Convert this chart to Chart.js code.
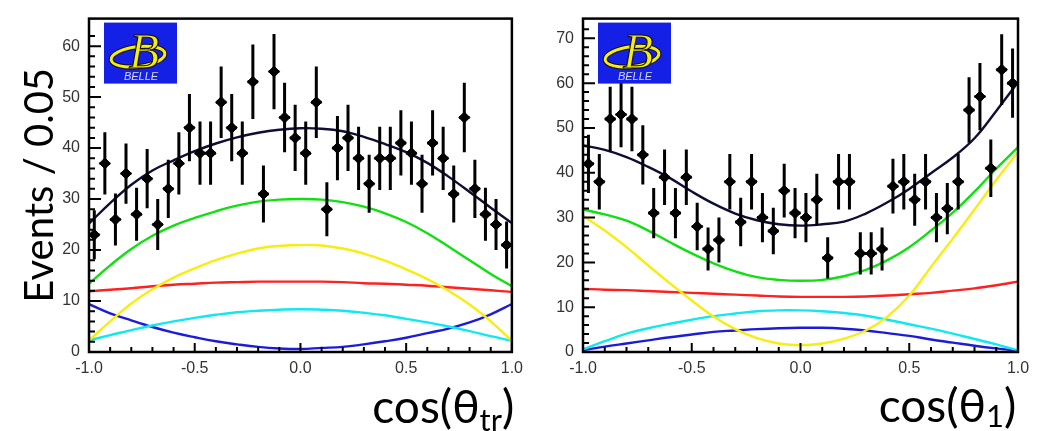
<!DOCTYPE html>
<html>
<head>
<meta charset="utf-8">
<script src="https://cdn.jsdelivr.net/npm/chart.js@4.4.1/dist/chart.umd.min.js"></script>
<style>
  html, body { margin: 0; padding: 0; background: #fff; }
  #wrap { position: relative; width: 1040px; height: 431px; overflow: hidden; }
  canvas { position: absolute; top: 0; }
  #cTr { left: 0; }
  #cT1 { left: 530px; }
</style>
</head>
<body>
<div id="wrap">
  <canvas id="cTr" width="530" height="431"></canvas>
  <canvas id="cT1" width="510" height="431"></canvas>
</div>
<script>
// bin centres, bin width 0.05
const binCenters = [-0.975, -0.925, -0.875, -0.825, -0.775, -0.725, -0.675, -0.625, -0.575, -0.525,
  -0.475, -0.425, -0.375, -0.325, -0.275, -0.225, -0.175, -0.125, -0.075, -0.025,
  0.025, 0.075, 0.125, 0.175, 0.225, 0.275, 0.325, 0.375, 0.425, 0.475,
  0.525, 0.575, 0.625, 0.675, 0.725, 0.775, 0.825, 0.875, 0.925, 0.975];

// cos(theta_tr) panel
const countsTr = [23, 37, 26, 35, 27, 34, 25, 32, 37, 44, 39, 39, 49, 44, 39, 53, 31, 55, 46, 42,
  39, 49, 28, 40, 42, 38, 33, 38, 38, 41, 39, 33, 41, 38, 31, 46, 32, 27, 25, 21];
const errTr = [4.8, 6.1, 5.1, 5.9, 5.2, 5.8, 5.0, 5.7, 6.1, 6.6, 6.2, 6.2, 7.0, 6.6, 6.2, 7.3, 5.6, 7.4, 6.8, 6.5,
  6.2, 7.0, 5.3, 6.3, 6.5, 6.2, 5.7, 6.2, 6.2, 6.4, 6.2, 5.7, 6.4, 6.2, 5.6, 6.8, 5.7, 5.2, 5.0, 4.6];

// cos(theta_1) panel
const countsT1 = [42, 38, 52, 53, 52, 44, 31, 39, 31, 39, 28, 23, 25, 38, 29, 38, 30, 27, 36, 31,
  30, 34, 21, 38, 38, 22, 22, 23, 37, 38, 34, 38, 30, 32, 38, 54, 57, 41, 63, 60];
const errT1 = [6.5, 6.2, 7.2, 7.3, 7.2, 6.6, 5.6, 6.2, 5.6, 6.2, 5.3, 4.8, 5.0, 6.2, 5.4, 6.2, 5.5, 5.2, 6.0, 5.6,
  5.5, 5.8, 4.6, 6.2, 6.2, 4.7, 4.7, 4.8, 6.1, 6.2, 5.8, 6.2, 5.5, 5.7, 6.2, 7.3, 7.5, 6.4, 7.9, 7.7];

// fit curves, sampled every 0.1
const curveX = [-1.0, -0.9, -0.8, -0.7, -0.6, -0.5, -0.4, -0.3, -0.2, -0.1, 0.0,
  0.1, 0.2, 0.3, 0.4, 0.5, 0.6, 0.7, 0.8, 0.9, 1.0];

const trTotal  = [25.2, 29.2, 32.8, 35.6, 37.6, 39.4, 40.9, 42.1, 43.0, 43.6, 43.9, 43.8, 43.3, 42.2, 40.8, 39.2, 37.1, 34.4, 31.4, 28.3, 25.3];
const trGreen  = [13.4, 17.0, 20.2, 22.8, 24.8, 26.3, 27.6, 28.7, 29.5, 29.9, 30.0, 29.9, 29.4, 28.5, 27.2, 25.5, 23.3, 20.7, 18.0, 15.3, 12.9];
const trYellow = [2.3, 6.0, 9.5, 12.3, 14.6, 16.4, 18.0, 19.3, 20.3, 20.8, 21.0, 20.9, 20.3, 19.3, 17.9, 16.2, 14.3, 12.0, 9.3, 6.0, 2.2];
const trRed    = [11.9, 12.2, 12.5, 12.9, 13.2, 13.4, 13.6, 13.7, 13.8, 13.8, 13.8, 13.8, 13.7, 13.5, 13.4, 13.2, 13.0, 12.7, 12.4, 12.1, 11.8];
const trCyan   = [2.3, 3.3, 4.3, 5.2, 6.0, 6.7, 7.3, 7.8, 8.1, 8.3, 8.4, 8.3, 8.1, 7.7, 7.2, 6.5, 5.8, 5.0, 4.1, 3.1, 2.2];
const trBlue   = [9.4, 7.6, 6.2, 4.9, 3.8, 2.9, 2.1, 1.5, 1.0, 0.7, 0.6, 0.8, 1.0, 1.5, 2.1, 2.8, 3.7, 4.6, 5.8, 7.4, 9.4];

const t1Total  = [46.1, 45.1, 43.5, 41.3, 38.8, 35.8, 33.1, 30.9, 29.4, 28.5, 28.2, 28.5, 29.1, 30.9, 33.4, 36.4, 39.9, 43.4, 47.7, 53.8, 60.2];
const t1Green  = [31.8, 30.7, 29.3, 27.1, 24.5, 22.0, 19.8, 18.0, 16.7, 16.1, 15.9, 16.1, 16.9, 18.3, 20.5, 23.4, 27.1, 31.1, 35.8, 40.9, 45.7];
const t1Yellow = [30.4, 27.1, 23.4, 19.3, 15.3, 11.5, 7.9, 5.1, 3.1, 1.9, 1.5, 1.9, 3.0, 4.8, 7.9, 12.6, 19.0, 25.3, 31.8, 38.4, 44.6];
const t1Red    = [14.1, 13.9, 13.8, 13.6, 13.4, 13.2, 13.0, 12.8, 12.6, 12.4, 12.3, 12.3, 12.3, 12.4, 12.6, 12.9, 13.2, 13.7, 14.2, 14.9, 15.7];
const t1Cyan   = [0.6, 2.4, 4.1, 5.3, 6.3, 7.2, 8.0, 8.6, 9.1, 9.3, 9.3, 9.1, 8.7, 8.1, 7.2, 6.2, 5.2, 4.1, 2.9, 1.7, 0.4];
const t1Blue   = [0.4, 1.2, 1.9, 2.6, 3.3, 3.9, 4.5, 4.8, 5.1, 5.3, 5.4, 5.4, 5.2, 4.8, 4.2, 3.6, 2.8, 2.1, 1.4, 0.8, 0.3];

const xMajorTicks = [-1.0, -0.5, 0.0, 0.5, 1.0];
const binHalfWidth = 0.025;

const COLORS = {
  total: '#0e0e36', green: '#10e010', yellow: '#f8ec10', red: '#ff2020', cyan: '#10e8f0', blue: '#1c1cd8'
};

Chart.defaults.font.family = "'Liberation Sans', Arial, sans-serif";
Chart.defaults.font.size = 16;
Chart.defaults.color = '#333';

function _isMajorX(v) {
  return xMajorTicks.some(m => Math.abs(m - v) < 1e-6);
}

const errorBars = {
  id: 'errorBars',
  afterDatasetsDraw(chart) {
    const { ctx, scales: { x, y } } = chart;
    chart.data.datasets.forEach(ds => {
      if (!ds.errors) return;
      ctx.save();
      ctx.strokeStyle = '#000';
      ctx.lineWidth = 3;
      ctx.beginPath();
      ds.data.forEach((p, k) => {
        const px = x.getPixelForValue(p.x);
        const py = y.getPixelForValue(p.y);
        ctx.moveTo(px, y.getPixelForValue(p.y - ds.errors[k]));
        ctx.lineTo(px, y.getPixelForValue(p.y + ds.errors[k]));
        ctx.moveTo(x.getPixelForValue(p.x - binHalfWidth), py);
        ctx.lineTo(x.getPixelForValue(p.x + binHalfWidth), py);
      });
      ctx.stroke();
      ctx.restore();
    });
  }
};

function _drawBelle(ctx, bx, by) {
  ctx.save();
  ctx.fillStyle = '#1420e6';
  ctx.fillRect(bx, by, 73, 61);
  ctx.beginPath();
  ctx.ellipse(bx + 34, by + 34, 27, 10, -0.12, 0, Math.PI * 2);
  ctx.strokeStyle = '#111';
  ctx.lineWidth = 5;
  ctx.stroke();
  ctx.strokeStyle = '#f4ea1c';
  ctx.lineWidth = 3;
  ctx.stroke();
  ctx.font = "italic 50px 'Liberation Serif', serif";
  ctx.textAlign = 'center';
  ctx.textBaseline = 'alphabetic';
  ctx.fillStyle = '#f4ea1c';
  ctx.strokeStyle = '#111';
  ctx.lineWidth = 1.2;
  ctx.fillText('B', bx + 40, by + 45);
  ctx.strokeText('B', bx + 40, by + 45);
  ctx.font = "italic 11px 'Liberation Sans', sans-serif";
  ctx.fillStyle = '#d8d8f4';
  ctx.fillText('BELLE', bx + 37, by + 57);
  ctx.restore();
}

const rootFrame = {
  id: 'rootFrame',
  afterDraw(chart, args, opts) {
    const { ctx, chartArea: a, scales: { x, y } } = chart;
    ctx.save();
    ctx.strokeStyle = '#000';
    ctx.lineWidth = 2;
    ctx.beginPath();
    y.ticks.forEach(t => {
      if (Math.abs(t.value / 2 - Math.round(t.value / 2)) > 1e-6) return;
      const py = y.getPixelForValue(t.value);
      ctx.moveTo(a.left, py);
      ctx.lineTo(a.left + (t.value % 10 === 0 ? 12 : 6), py);
    });
    x.ticks.forEach(t => {
      const px = x.getPixelForValue(t.value);
      ctx.moveTo(px, a.bottom);
      ctx.lineTo(px, a.bottom - (_isMajorX(t.value) ? 9 : 5));
    });
    ctx.stroke();
    ctx.lineWidth = 2.5;
    ctx.strokeRect(a.left, a.top, a.right - a.left, a.bottom - a.top);
    ctx.restore();

    _drawBelle(ctx, a.left + 15, a.top + 4);

    ctx.save();
    ctx.fillStyle = '#000';
    ctx.textBaseline = 'alphabetic';
    if (opts.yTitle) {
      ctx.save();
      ctx.translate(opts.yTitleX, (a.top + a.bottom) / 2);
      ctx.rotate(-Math.PI / 2);
      ctx.textAlign = 'center';
      ctx.font = "40px Lato, 'Open Sans', sans-serif";
      ctx.fillText(opts.yTitle, 0, 0);
      ctx.restore();
    }
    // x title: main text, lowered subscript, closing bracket; ink right-aligned
    const mainFont = "46px Lato, 'Open Sans', 'DejaVu Sans', sans-serif";
    const subFont = "31px Lato, 'Open Sans', 'DejaVu Sans', sans-serif";
    ctx.textAlign = 'left';
    ctx.font = mainFont;
    const w1 = ctx.measureText(opts.xMain).width;
    const w3 = ctx.measureText(')').actualBoundingBoxRight;
    ctx.font = subFont;
    const w2 = ctx.measureText(opts.xSub).width;
    let cx = opts.xRight - (w1 + w2 + w3);
    ctx.font = mainFont;
    ctx.fillText(opts.xMain, cx, opts.xBase);
    cx += w1;
    ctx.font = subFont;
    ctx.fillText(opts.xSub, cx, opts.xBase + opts.subDrop);
    cx += w2;
    ctx.font = mainFont;
    ctx.fillText(')', cx, opts.xBase);
    ctx.restore();
  }
};

function _curve(arr, color) {
  return {
    data: curveX.map((x, i) => ({ x, y: arr[i] })),
    borderColor: color,
    borderWidth: 2.4,
    pointRadius: 0,
    tension: 0.4,
    fill: false
  };
}

function _makePanel(id, p) {
  const points = {
    data: binCenters.map((x, i) => ({ x, y: p.counts[i] })),
    errors: p.errors,
    showLine: false,
    pointStyle: 'rectRot',
    pointRadius: 5.5,
    backgroundColor: '#000',
    borderColor: '#000',
    borderWidth: 1
  };
  return new Chart(document.getElementById(id).getContext('2d'), {
    type: 'line',
    data: {
      datasets: [
        points,
        _curve(p.curves[0], COLORS.total),
        _curve(p.curves[1], COLORS.green),
        _curve(p.curves[2], COLORS.yellow),
        _curve(p.curves[3], COLORS.red),
        _curve(p.curves[4], COLORS.cyan),
        _curve(p.curves[5], COLORS.blue)
      ]
    },
    options: {
      responsive: false,
      animation: false,
      devicePixelRatio: 1,
      layout: { padding: { left: 0, top: 12, right: p.padRight, bottom: 0 } },
      plugins: {
        legend: { display: false },
        tooltip: { enabled: false },
        rootFrame: p.text
      },
      scales: {
        x: {
          type: 'linear',
          min: -1,
          max: 1,
          grid: { display: false, drawTicks: false },
          border: { display: false },
          ticks: {
            stepSize: 0.1,
            autoSkip: false,
            maxRotation: 0,
            padding: 7,
            callback: v => (_isMajorX(v) ? Number(v).toFixed(1) : '')
          },
          afterFit: s => { s.height = 79; }
        },
        y: {
          min: 0,
          max: p.yMax,
          grid: { display: false, drawTicks: false },
          border: { display: false },
          ticks: {
            stepSize: 2,
            autoSkip: false,
            padding: 9,
            callback: v => (v % 10 === 0 ? String(v) : '')
          },
          afterFit: s => { s.width = p.axisLeft; }
        }
      }
    },
    plugins: [errorBars, rootFrame]
  });
}

_makePanel('cTr', {
  counts: countsTr,
  errors: errTr,
  curves: [trTotal, trGreen, trYellow, trRed, trCyan, trBlue],
  yMax: 65.4,
  axisLeft: 89,
  padRight: 14,
  text: { yTitle: 'Events / 0.05', yTitleX: 53, xMain: 'cos(θ', xSub: 'tr', subDrop: 8, xRight: 513, xBase: 423 }
});

_makePanel('cT1', {
  counts: countsT1,
  errors: errT1,
  curves: [t1Total, t1Green, t1Yellow, t1Red, t1Cyan, t1Blue],
  yMax: 74.4,
  axisLeft: 53,
  padRight: 22,
  text: { yTitle: '', xMain: 'cos(θ', xSub: '1', subDrop: 5, xRight: 1015 - 530, xBase: 422 }
});
</script>
</body>
</html>
